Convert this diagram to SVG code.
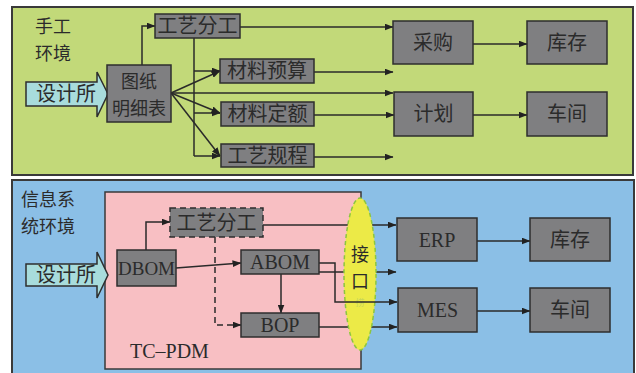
<svg xmlns="http://www.w3.org/2000/svg" width="636" height="373" viewBox="0 0 636 373">
<defs>
<marker id="ah" markerWidth="9" markerHeight="7" refX="8.5" refY="3.5" orient="auto" markerUnits="userSpaceOnUse">
<path d="M0,0 L9,3.5 L0,7 Z" fill="#222"/>
</marker>
</defs>
<style>
.panel{stroke:#3a3a3a;stroke-width:2}
.box{fill:#7f7f81;stroke:#2e2e2e;stroke-width:1.5}
.zh{font-family:"Noto Sans CJK SC","Noto Sans CJK JP",sans-serif;font-size:20px;fill:#2b2b2b}
.zh2{font-family:"Noto Sans CJK SC","Noto Sans CJK JP",sans-serif;font-size:18px;fill:#2b2b2b}
.en{font-family:"Liberation Serif",serif;font-size:20px;fill:#2b2b2b}
.ln{fill:none;stroke:#2a2a2a;stroke-width:1.5}
.arr{marker-end:url(#ah)}
.dash{stroke-dasharray:6,4}
.tip{fill:#a8dcdc;stroke:#2e2e2e;stroke-width:1.5}
</style>
<rect width="636" height="373" fill="#ffffff"/>
<!-- panels -->
<g id="panel-manual">
<rect class="panel" x="12" y="7" width="621" height="168" fill="#c2d979"/>
<text class="zh2" x="35" y="33">手工<tspan x="35" dy="27">环境</tspan></text>
</g>
<g id="panel-info">
<rect class="panel" x="12" y="180" width="622" height="196" fill="#8bbfe6"/>
<text class="zh2" x="21" y="206">信息系<tspan x="21" dy="27">统环境</tspan></text>
</g>
<g id="tc-pdm">
<rect x="105" y="192" width="256" height="177" fill="#f8bfc3" stroke="#3a3a3a" stroke-width="1.5"/>
<text class="en" x="130" y="358">TC–PDM</text>
</g>
<!-- connectors -->
<g id="connectors">
<!-- top -->
<path class="ln arr" d="M142,65 V26 H155"/>
<path class="ln arr" d="M240,27 H393"/>
<path class="ln" d="M194,38 V156"/>
<path class="ln arr" d="M194,71 H220"/>
<path class="ln arr" d="M194,113 H220"/>
<path class="ln arr" d="M194,156 H220"/>
<path class="ln arr" d="M171,93 L220,71"/>
<path class="ln arr" d="M171,93 L220,113"/>
<path class="ln arr" d="M171,93 L220,156"/>
<path class="ln arr" d="M171,93 H393"/>
<path class="ln arr" d="M314,72 H393"/>
<path class="ln arr" d="M314,115 H394"/>
<path class="ln arr" d="M314,157 H393"/>
<path class="ln arr" d="M473,44 H527"/>
<path class="ln arr" d="M473,115 H527"/>
<!-- bottom -->
<path class="ln arr" d="M146,250 V222 H170"/>
<path class="ln arr" d="M176,268 L241,263"/>
<path class="ln arr" d="M281,274 V313"/>
<path class="ln arr dash" d="M215,237 V325 H241"/>
<path class="ln arr" d="M263,225 H396"/>
<path class="ln arr" d="M319,272 H396"/>
<path class="ln arr" d="M319,327 H397"/>
<path class="ln arr" d="M477,241 H530"/>
<path class="ln arr" d="M477,311 H530"/>
</g>
<!-- interface ellipse -->
<g id="interface">
<ellipse cx="360" cy="274" rx="16" ry="76" fill="#ecea47" stroke="#8cc63f" stroke-width="1.5" stroke-dasharray="4,3"/>
<text class="zh2" x="360" y="261" text-anchor="middle">接<tspan x="360" dy="26.5">口</tspan><tspan x="360" dy="18" style="font-size:9px;fill:#c7d65a">捞</tspan></text>
</g>
<g id="connectors-over">
<path class="ln arr" d="M319,263 H335 V302 H397"/>
</g>
<!-- top nodes -->
<g id="sjs1"><polygon class="tip" points="26,82 97,82 97,72 108,94 97,117 97,106 26,106"/><text class="zh" x="36" y="101">设计所</text></g>
<g id="tuzhi"><rect class="box" x="107" y="65" width="64" height="57"/><text class="zh2" x="139" y="88" text-anchor="middle">图纸<tspan x="139" dy="26.5">明细表</tspan></text></g>
<g id="gyfg1"><rect class="box" x="155" y="14" width="85" height="24"/><text class="zh" x="197.5" y="33" text-anchor="middle">工艺分工</text></g>
<g id="clys"><rect class="box" x="220" y="59" width="94" height="24"/><text class="zh" x="267" y="78" text-anchor="middle">材料预算</text></g>
<g id="clde"><rect class="box" x="221" y="102" width="93" height="24"/><text class="zh" x="267.5" y="121" text-anchor="middle">材料定额</text></g>
<g id="gygc"><rect class="box" x="221" y="144" width="93" height="23"/><text class="zh" x="267.5" y="163" text-anchor="middle">工艺规程</text></g>
<g id="caigou"><rect class="box" x="393" y="21" width="80" height="43"/><text class="zh" x="433" y="50" text-anchor="middle">采购</text></g>
<g id="kucun1"><rect class="box" x="527" y="21" width="80" height="43"/><text class="zh" x="567" y="50" text-anchor="middle">库存</text></g>
<g id="jihua"><rect class="box" x="394" y="92" width="79" height="44"/><text class="zh" x="433.5" y="121" text-anchor="middle">计划</text></g>
<g id="chejian1"><rect class="box" x="527" y="92" width="80" height="44"/><text class="zh" x="567" y="121" text-anchor="middle">车间</text></g>
<!-- bottom nodes -->
<g id="sjs2"><polygon class="tip" points="26,264 97,264 97,252 108,275 97,298 97,286 26,286"/><text class="zh" x="36" y="282">设计所</text></g>
<g id="dbom"><rect class="box" x="117" y="250" width="59" height="36"/><text class="en" x="146.5" y="275" text-anchor="middle" style="font-size:19px">DBOM</text></g>
<g id="gyfg2"><rect class="box dash" x="170" y="208" width="93" height="29"/><text class="zh" x="216.5" y="230" text-anchor="middle">工艺分工</text></g>
<g id="abom"><rect class="box" x="241" y="250" width="78" height="24"/><text class="en" x="280" y="269" text-anchor="middle">ABOM</text></g>
<g id="bop"><rect class="box" x="241" y="313" width="78" height="24"/><text class="en" x="280" y="332" text-anchor="middle">BOP</text></g>
<g id="erp"><rect class="box" x="397" y="218" width="80" height="43"/><text class="en" x="437" y="247" text-anchor="middle">ERP</text></g>
<g id="kucun2"><rect class="box" x="530" y="218" width="80" height="43"/><text class="zh" x="570" y="247" text-anchor="middle">库存</text></g>
<g id="mes"><rect class="box" x="398" y="288" width="79" height="44"/><text class="en" x="437.5" y="317" text-anchor="middle">MES</text></g>
<g id="chejian2"><rect class="box" x="530" y="288" width="80" height="44"/><text class="zh" x="570" y="317" text-anchor="middle">车间</text></g>
</svg>
